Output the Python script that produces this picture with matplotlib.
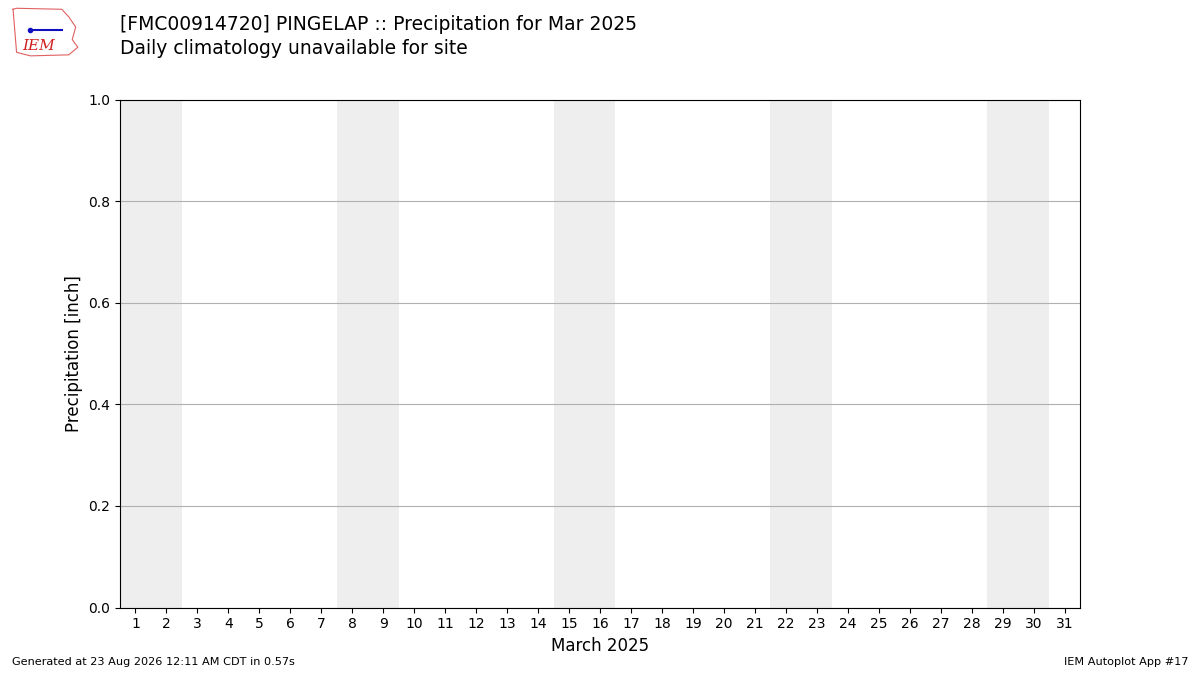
import matplotlib
matplotlib.use('Agg')
import matplotlib.pyplot as plt

days = list(range(1, 32))
weekend_days = [1, 2, 8, 9, 15, 16, 22, 23, 29, 30]
precip = []  # no observations reported for the month
yticks = [0.0, 0.2, 0.4, 0.6, 0.8, 1.0]

fig = plt.figure(figsize=(12, 6.75), dpi=100)
ax = fig.add_axes([0.1, 0.1, 0.8, 0.752])

for d in weekend_days:
    ax.axvspan(d - 0.5, d + 0.5, color='#eeeeee', lw=0, zorder=0)

if precip:
    ax.bar(days[:len(precip)], precip, color='b')

ax.set_xlim(0.5, 31.5)
ax.set_ylim(0, 1)
ax.set_xticks(days)
ax.set_yticks(yticks)
ax.yaxis.grid(True, color='#b0b0b0', lw=0.8)
ax.set_axisbelow(True)
ax.set_xlabel('March 2025', fontsize=12)
ax.set_ylabel('Precipitation [inch]', fontsize=12)

fig.text(0.1, 0.963, '[FMC00914720] PINGELAP :: Precipitation for Mar 2025',
         fontsize=13.5, va='center')
fig.text(0.1, 0.928, 'Daily climatology unavailable for site', fontsize=13.5, va='center')
fig.text(0.01, 0.015, 'Generated at 23 Aug 2026 12:11 AM CDT in 0.57s', fontsize=8.1)
fig.text(0.99, 0.015, 'IEM Autoplot App #17', fontsize=8.1, ha='right')

# rough stand-in for the IEM logo
logo = fig.add_axes([0.008, 0.915, 0.058, 0.075])
logo.plot([0.05, 0.1, 0.75, 0.85, 0.95, 0.9, 0.98, 0.85, 0.3, 0.1, 0.05],
          [0.95, 0.97, 0.95, 0.8, 0.6, 0.35, 0.2, 0.05, 0.03, 0.1, 0.95],
          color='#e06060', lw=0.8)
logo.plot([0.3, 0.75], [0.55, 0.55], color='#1010c0', lw=1.5)
logo.plot([0.3], [0.55], 'o', color='#1010c0', ms=3)
logo.text(0.42, 0.22, 'IEM', color='#d02020', fontsize=11, fontstyle='italic',
          family='DejaVu Serif', ha='center', va='center')
logo.set_xlim(0, 1)
logo.set_ylim(0, 1)
logo.axis('off')

fig.savefig('out.png', dpi=100)
